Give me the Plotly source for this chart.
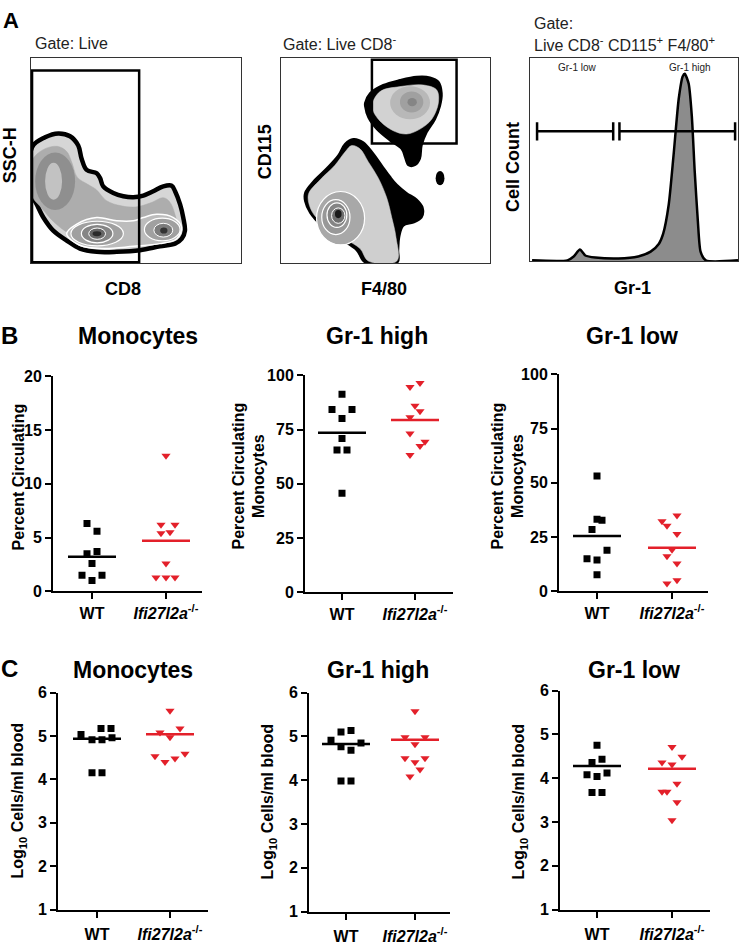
import math
import plotly.graph_objects as go

W, H = 742, 949
FONT = "Liberation Sans"
RED = "#e3202a"

# ---------------- Panel B data (percent) ----------------
groups = ["WT", "<i>Ifi27l2a</i><sup>-/-</sup>"]
b_mono_wt = [6.3, 5.6, 3.5, 3.7, 2.6, 1.5, 1.5, 1.0]
b_mono_ko = [12.6, 6.2, 6.2, 5.4, 5.5, 2.6, 1.3, 1.3, 1.3]
b_high_wt = [91.3, 84.3, 84.3, 80.1, 70.9, 65.6, 65.6, 45.7]
b_high_ko = [94.6, 96.5, 86.0, 83.4, 80.7, 73.2, 69.4, 67.4, 63.3]
b_low_wt = [53.2, 33.2, 32.8, 28.5, 18.9, 15.0, 14.4, 7.6]
b_low_ko = [35.0, 32.3, 30.2, 26.4, 19.2, 16.2, 12.8, 5.1, 3.6]

# ---------------- Panel C data (log10 cells/ml blood) ----------------
c_mono_wt = [5.17, 5.17, 5.03, 4.91, 4.91, 4.96, 4.15, 4.15]
c_mono_ko = [5.58, 5.17, 5.08, 4.97, 4.59, 4.53, 4.48, 4.40]
c_high_wt = [5.10, 5.13, 4.91, 4.85, 4.76, 4.68, 3.98, 3.98]
c_high_ko = [5.57, 4.98, 4.98, 4.82, 4.50, 4.50, 4.41, 4.24, 4.08]
c_low_wt = [4.75, 4.36, 4.43, 4.08, 4.04, 4.12, 3.67, 3.67]
c_low_ko = [4.71, 4.49, 4.36, 4.31, 3.87, 3.69, 3.69, 3.45, 3.04]

# horizontal scatter offsets of the dots (pixels)
b_mono_wt_jit = [-5, 5, -5, 5, 0, -10, 10, 0]
b_mono_ko_jit = [0, -5, 9, -5, 4, 0, -10, 0, 9]
b_high_wt_jit = [0, -10, 10, 0, 0, -5, 5, 0]
b_high_ko_jit = [-5, 5, 0, 5, -5, -5, 10, 5, -5]
b_low_wt_jit = [0, 0, 5, -5, 10, -10, 0, 0]
b_low_ko_jit = [5, -10, -5, 5, 0, -5, 5, 5, -5]
c_mono_wt_jit = [4, 14, -16, -5, 5, 15, -5, 5]
c_mono_ko_jit = [0, 10, -10, 0, 15, -15, 5, -5]
c_high_wt_jit = [-5, 5, -15, 15, -5, 5, -5, 5]
c_high_ko_jit = [0, -10, 10, 0, -10, 10, 0, 5, -5]
c_low_wt_jit = [0, -5, 5, -10, 0, 10, -5, 5]
c_low_ko_jit = [0, 10, -10, 0, 5, -10, -5, 5, 0]

# ---------------- Panel A: flow cytometry outlines ----------------
a1_outer = [(0.5, 56.6), (6.7, 61.4), (13, 63.3), (18.6, 61.9), (22.5, 57.4), (24.1, 51), (26.5, 45.5),
            (31.3, 43.9), (32.9, 41.5), (34.4, 37.5), (39.2, 34.3), (44, 32.7), (48.7, 32.2), (53.5, 33),
            (58.2, 35.1), (63, 37.5), (67, 37.8), (68.6, 35.1), (71, 28.7), (72.5, 22.3), (73.3, 15.9),
            (71.8, 12), (68.6, 9.6), (61.4, 8.3), (51.9, 6.4), (40.8, 5.6), (31.3, 5.6), (23.3, 7.2),
            (17, 11.1), (10.6, 15.9), (5.9, 22.3), (1.9, 30.3), (0.5, 31.9)]
a1_body = [(0.5, 50), (6, 55.5), (12.5, 57), (17, 54.5), (19.5, 49), (22, 42), (27, 38.5), (31, 36),
           (36, 30.5), (43, 28), (50, 27.5), (57, 29.5), (63, 32), (66, 30), (68.5, 24), (69.5, 17),
           (66.5, 12.5), (58, 11), (48, 10), (36, 9.3), (26, 10.3), (18, 14.5), (11, 20), (5, 27), (0.5, 33)]
a1_lower = [(17, 14.4), (21.8, 19.1), (31.3, 22.3), (40.8, 20.7), (48.7, 20.7), (53.5, 22.3), (59.8, 23.9),
            (67.8, 22.3), (71.7, 17.5), (69.4, 12), (61.4, 9.6), (48.7, 8.3), (34.4, 7.2), (23.3, 8.8)]
a1_rings = [((2, 26, 21, 54), "#8f8f8f", None, 0), ((6.7, 31, 14.8, 49), "#c2c2c2", None, 0),
            ((19, 8.5, 44, 20.5), "#a0a0a0", "white", 1.2), ((24, 10, 39, 19), "#858585", "white", 1.2),
            ((27.5, 11.7, 35.5, 17.2), "#666666", "white", 1), ((29.3, 13.2, 33.5, 15.6), "#2a2a2a", None, 0),
            ((54, 11, 71, 22), "#a0a0a0", "white", 1.2), ((58.5, 12.8, 67.5, 19.5), "#7c7c7c", "white", 1),
            ((61.5, 14.5, 65, 17.5), "#333333", None, 0)]
a1_gate = (0.5, 0.5, 51.5, 94)

a2_upper_outer = [(40.2, 78.1), (42.6, 82.9), (48.9, 86.9), (56.9, 89.3), (64.9, 90.9), (71.3, 90.6),
                  (75.3, 88.5), (76.9, 82.9), (76.1, 76.6), (73.7, 70.2), (69.7, 63.8), (67.3, 57.4),
                  (66.5, 51), (64.1, 47.8), (60.9, 47.8), (59.3, 51.8), (57.7, 55.8), (52.2, 59.8),
                  (45.8, 65.4), (41.8, 71), (40.2, 76.6)]
a2_upper_inner = [(43.6, 76.6), (47.4, 83.7), (56.9, 86.1), (68.1, 86.9), (74.5, 84.5), (75.3, 78.2),
                  (72.1, 70.2), (66.5, 65.4), (60.1, 63), (53.7, 64.6), (46.6, 70.2)]
a2_lower_outer = [(11.5, 34.3), (15.5, 39.9), (21.9, 46.3), (27.4, 52.6), (30.6, 58.2), (34.6, 60.6),
                  (39.4, 59), (44.2, 53.4), (48.2, 47.8), (52.2, 42.2), (55.4, 38.3), (60.1, 34.3),
                  (64.9, 31.1), (67.8, 27.1), (67.3, 22.3), (63.3, 19.9), (58.5, 18.3), (56.6, 12.8),
                  (56.1, 6.4), (55.8, 0.5), (40.2, 0.5), (36.2, 6.4), (28.2, 12), (19.5, 18.3),
                  (13.9, 24.7), (11.5, 30.3)]
a2_lower_inner = [(13.1, 33.5), (18.7, 40.7), (25.8, 47.8), (30.6, 54.2), (33.8, 57.4), (37.8, 55.8),
                  (41.8, 49.4), (46.6, 41.5), (50.6, 31.9), (53, 22.3), (55, 12.8), (55.4, 1.1),
                  (41.8, 1.1), (37.8, 7.2), (29, 12.8), (20.2, 19.1), (14.7, 25.5)]
a2_rings = [((52.2, 70.2, 71.3, 86.3), "#b8b8b8", None, 0), ((56.9, 73.5, 68.1, 83.7), "#a0a0a0", None, 0),
            ((60.5, 76.5, 65, 80.5), "#858585", None, 0), ((74, 38, 78.2, 45), "black", None, 0),
            ((17, 9, 40, 35), "#a8a8a8", "white", 1.2), ((19.5, 14, 33, 31), "#989898", "white", 1.2),
            ((22, 17.5, 31.5, 29.5), "#858585", "white", 1.2), ((24.2, 19.5, 30.6, 27), "#6e6e6e", "white", 1),
            ((25.8, 22, 29, 26), "#1a1a1a", None, 0)]
a2_gate = (43.5, 58.4, 84, 99.2)

gr1_x = [1, 18, 21, 24, 26.6, 31.4, 42.5, 52, 58, 62, 64, 66.7, 69, 71.5, 73.4, 74.4, 76.3, 77.8,
         79.2, 80.7, 82, 84.5, 100]
gr1_count = [0.5, 0.5, 2.4, 5.8, 2.9, 1.9, 1.4, 2.4, 4.8, 8.7, 13.5, 28, 52, 80, 91, 92.3, 87.4, 71.5,
             44, 19.8, 4.8, 0.5, 0.5]
gate_low_x = [3.4, 40]
gate_high_x = [43, 98.6]
gate_level = 64

fig = go.Figure()
shapes = []
annotations = []


def sfx(i):
    return "" if i == 1 else str(i)


def dom(x0, x1, yt, yb):
    return [x0 / W, x1 / W], [1 - yb / H, 1 - yt / H]


def poly(i, pts, fill, lc=None, lw=0.5):
    xs = [p[0] for p in pts] + [pts[0][0]]
    ys = [p[1] for p in pts] + [pts[0][1]]
    fig.add_trace(go.Scatter(x=xs, y=ys, mode="lines", fill="toself", fillcolor=fill,
                             line=dict(color=lc or fill, width=lw, shape="spline", smoothing=1.0),
                             xaxis="x" + sfx(i), yaxis="y" + sfx(i), hoverinfo="skip"))


def ell(i, box, fill, lc, lw):
    x0, y0, x1, y1 = box
    shapes.append(dict(type="circle", xref="x" + sfx(i), yref="y" + sfx(i), x0=x0, y0=y0, x1=x1, y1=y1,
                       fillcolor=fill, line=dict(color=lc or fill, width=lw), layer="above"))


def rect(i, box):
    x0, y0, x1, y1 = box
    shapes.append(dict(type="rect", xref="x" + sfx(i), yref="y" + sfx(i), x0=x0, y0=y0, x1=x1, y1=y1,
                       line=dict(color="black", width=2.5), fillcolor="rgba(0,0,0,0)", layer="above"))


def ann(text, x, y, size, bold=False, angle=0, xanchor="center", color="black"):
    annotations.append(dict(text=text, x=x / W, y=1 - y / H, xref="paper", yref="paper", showarrow=False,
                            xanchor=xanchor, yanchor="middle", textangle=angle,
                            font=dict(family=FONT, size=size, color=color,
                                      weight="bold" if bold else "normal")))


layout = {}

# ---------------- Panel A axes ----------------
a_boxes = [(1, 31, 241, 51, 260), (2, 281, 490, 51, 260), (3, 530, 738, 51, 258)]
for i, x0, x1, yt, yb in a_boxes:
    xd, yd = dom(x0, x1, yt, yb)
    common = dict(range=[0, 100], showline=True, mirror=True, linecolor="#333333", linewidth=1.2,
                  showticklabels=False, ticks="", showgrid=False, zeroline=False, fixedrange=True)
    layout["xaxis" + sfx(i)] = dict(domain=xd, anchor="y" + sfx(i), **common)
    layout["yaxis" + sfx(i)] = dict(domain=yd, anchor="x" + sfx(i), **common)

# A1
poly(1, a1_outer, "#d6d6d6", "black", 4.5)
poly(1, a1_body, "#adadad")
poly(1, a1_lower, "#bcbcbc", "white", 1.5)
for box, fc, lc, lw in a1_rings:
    ell(1, box, fc, lc, lw)
rect(1, a1_gate)

# A2
poly(2, a2_upper_outer, "black", "black", 2)
poly(2, a2_upper_inner, "#d2d2d2")
poly(2, a2_lower_outer, "black", "black", 2)
poly(2, a2_lower_inner, "#cfcfcf")
for box, fc, lc, lw in a2_rings:
    ell(2, box, fc, lc, lw)
rect(2, a2_gate)

# A3 histogram
fig.add_trace(go.Scatter(x=gr1_x, y=gr1_count, mode="lines", fill="tozeroy", fillcolor="#8c8c8c",
                         line=dict(color="black", width=2.5, shape="spline", smoothing=0.6),
                         xaxis="x3", yaxis="y3", hoverinfo="skip"))
for gx in (gate_low_x, gate_high_x):
    fig.add_trace(go.Scatter(x=gx, y=[gate_level, gate_level], mode="lines+markers",
                             line=dict(color="black", width=2.5),
                             marker=dict(symbol="line-ns", size=13, line=dict(color="black", width=2.5)),
                             xaxis="x3", yaxis="y3", hoverinfo="skip"))
annotations.append(dict(text="Gr-1 low", x=23, y=95.5, xref="x3", yref="y3", showarrow=False,
                        font=dict(family=FONT, size=10, color="#222")))
annotations.append(dict(text="Gr-1 high", x=77, y=95.5, xref="x3", yref="y3", showarrow=False,
                        font=dict(family=FONT, size=10, color="#222")))

# Panel A text
ann("A", 11, 13, 22, bold=True)
ann("Gate: Live", 33, 36, 16, xanchor="left", color="#222")
ann("Gate: Live CD8<sup>-</sup>", 281, 36, 16, xanchor="left", color="#222")
ann("Gate:", 532, 16, 16, xanchor="left", color="#222")
ann("Live CD8<sup>-</sup> CD115<sup>+</sup> F4/80<sup>+</sup>", 532, 37, 16, xanchor="left", color="#222")
ann("SSC-H", 10, 150, 18, bold=True, angle=-90)
ann("CD8", 123, 286, 18, bold=True)
ann("CD115", 265, 147, 18, bold=True, angle=-90)
ann("F4/80", 384, 286, 18, bold=True)
ann("Cell Count", 513, 162, 18, bold=True, angle=-90)
ann("Gr-1", 632, 285, 18, bold=True)

# ---------------- Panels B and C ----------------
dot_plots = [
    # idx, wt, ko, wt_jit, ko_jit, x0, x1, ytop, ybot, wt_px, ko_px, yrange, ytickvals, log
    (4, b_mono_wt, b_mono_ko, b_mono_wt_jit, b_mono_ko_jit, 53, 202, 375, 594, 92, 166, [0, 20], [0, 5, 10, 15, 20], False),
    (5, b_high_wt, b_high_ko, b_high_wt_jit, b_high_ko_jit, 305, 453, 374, 595, 342, 415, [0, 100], [0, 25, 50, 75, 100], False),
    (6, b_low_wt, b_low_ko, b_low_wt_jit, b_low_ko_jit, 559, 708, 373, 594, 597, 672, [0, 100], [0, 25, 50, 75, 100], False),
    (7, c_mono_wt, c_mono_ko, c_mono_wt_jit, c_mono_ko_jit, 58, 208, 697, 918, 97, 170, [1, 6], [1, 2, 3, 4, 5, 6], True),
    (8, c_high_wt, c_high_ko, c_high_wt_jit, c_high_ko_jit, 309, 450, 697, 920, 346, 415, [1, 6], [1, 2, 3, 4, 5, 6], True),
    (9, c_low_wt, c_low_ko, c_low_wt_jit, c_low_ko_jit, 560, 710, 695, 918, 597, 672, [1, 6], [1, 2, 3, 4, 5, 6], True),
]

tfont = dict(family=FONT, size=16, color="black", weight="bold")
for (i, wt, ko, wj, kj, x0, x1, yt, yb, wpx, kpx, yr, ytv, is_log) in dot_plots:
    ppu = kpx - wpx
    xd, yd = dom(x0, x1, yt, yb)
    axstyle = dict(showline=True, linecolor="black", linewidth=2, ticks="outside", ticklen=6, tickwidth=2,
                   tickcolor="black", showgrid=False, zeroline=False, fixedrange=True, tickfont=tfont)
    layout["xaxis" + sfx(i)] = dict(domain=xd, anchor="y" + sfx(i), range=[(x0 - wpx) / ppu, (x1 - wpx) / ppu],
                                    tickvals=[0, 1], ticktext=["<b>%s</b>" % g for g in groups],
                                    ticklabelstandoff=(3 if is_log else 0), **axstyle)
    layout["yaxis" + sfx(i)] = dict(domain=yd, anchor="x" + sfx(i), range=yr, tickvals=ytv,
                                    ticktext=["<b>%d</b>" % v for v in ytv], **axstyle)
    hw = 24 / ppu
    for g, vals, jit, color, sym, size in ((0, wt, wj, "black", "square", 7),
                                          (1, ko, kj, RED, "triangle-down", 8)):
        xs = [g + j / ppu for j in jit]
        fig.add_trace(go.Scatter(x=xs, y=vals, mode="markers",
                                 marker=dict(symbol=sym, size=size, color=color, line=dict(width=0)),
                                 xaxis="x" + sfx(i), yaxis="y" + sfx(i)))
        if is_log:
            m = math.log10(sum(10 ** v for v in vals) / len(vals))
        else:
            m = sum(vals) / len(vals)
        fig.add_trace(go.Scatter(x=[g - hw, g + hw], y=[m, m], mode="lines",
                                 line=dict(color=color, width=2.5),
                                 xaxis="x" + sfx(i), yaxis="y" + sfx(i)))

# Panel B/C text
ann("B", 9, 333, 24, bold=True)
ann("C", 9, 673, 24, bold=True)
ann("Monocytes", 138, 334, 23, bold=True)
ann("Gr-1 high", 377, 334, 23, bold=True)
ann("Gr-1 low", 632, 334, 23, bold=True)
ann("Monocytes", 133, 674, 23, bold=True)
ann("Gr-1 high", 378, 674, 23, bold=True)
ann("Gr-1 low", 634, 674, 23, bold=True)
ann("Percent Circulating", 18, 478, 16, bold=True, angle=-90)
ann("Percent Circulating<br>Monocytes", 249, 477, 16, bold=True, angle=-90)
ann("Percent Circulating<br>Monocytes", 508, 477, 16, bold=True, angle=-90)
ann("Log<sub>10</sub> Cells/ml blood", 19, 807, 16, bold=True, angle=-90)
ann("Log<sub>10</sub> Cells/ml blood", 269, 808, 16, bold=True, angle=-90)
ann("Log<sub>10</sub> Cells/ml blood", 520, 808, 16, bold=True, angle=-90)

fig.update_layout(width=W, height=H, margin=dict(l=0, r=0, t=0, b=0), showlegend=False,
                  paper_bgcolor="white", plot_bgcolor="white", shapes=shapes, annotations=annotations,
                  font=dict(family=FONT), **layout)
fig.write_html("out.html", config={"displayModeBar": False},
               post_script="document.documentElement.style.margin='0';document.body.style.margin='0';"
                           "document.body.style.padding='0';document.body.style.overflow='hidden';"
                           "var d=document.getElementById('{plot_id}');d.style.position='fixed';"
                           "d.style.top='0px';d.style.left='0px';")
